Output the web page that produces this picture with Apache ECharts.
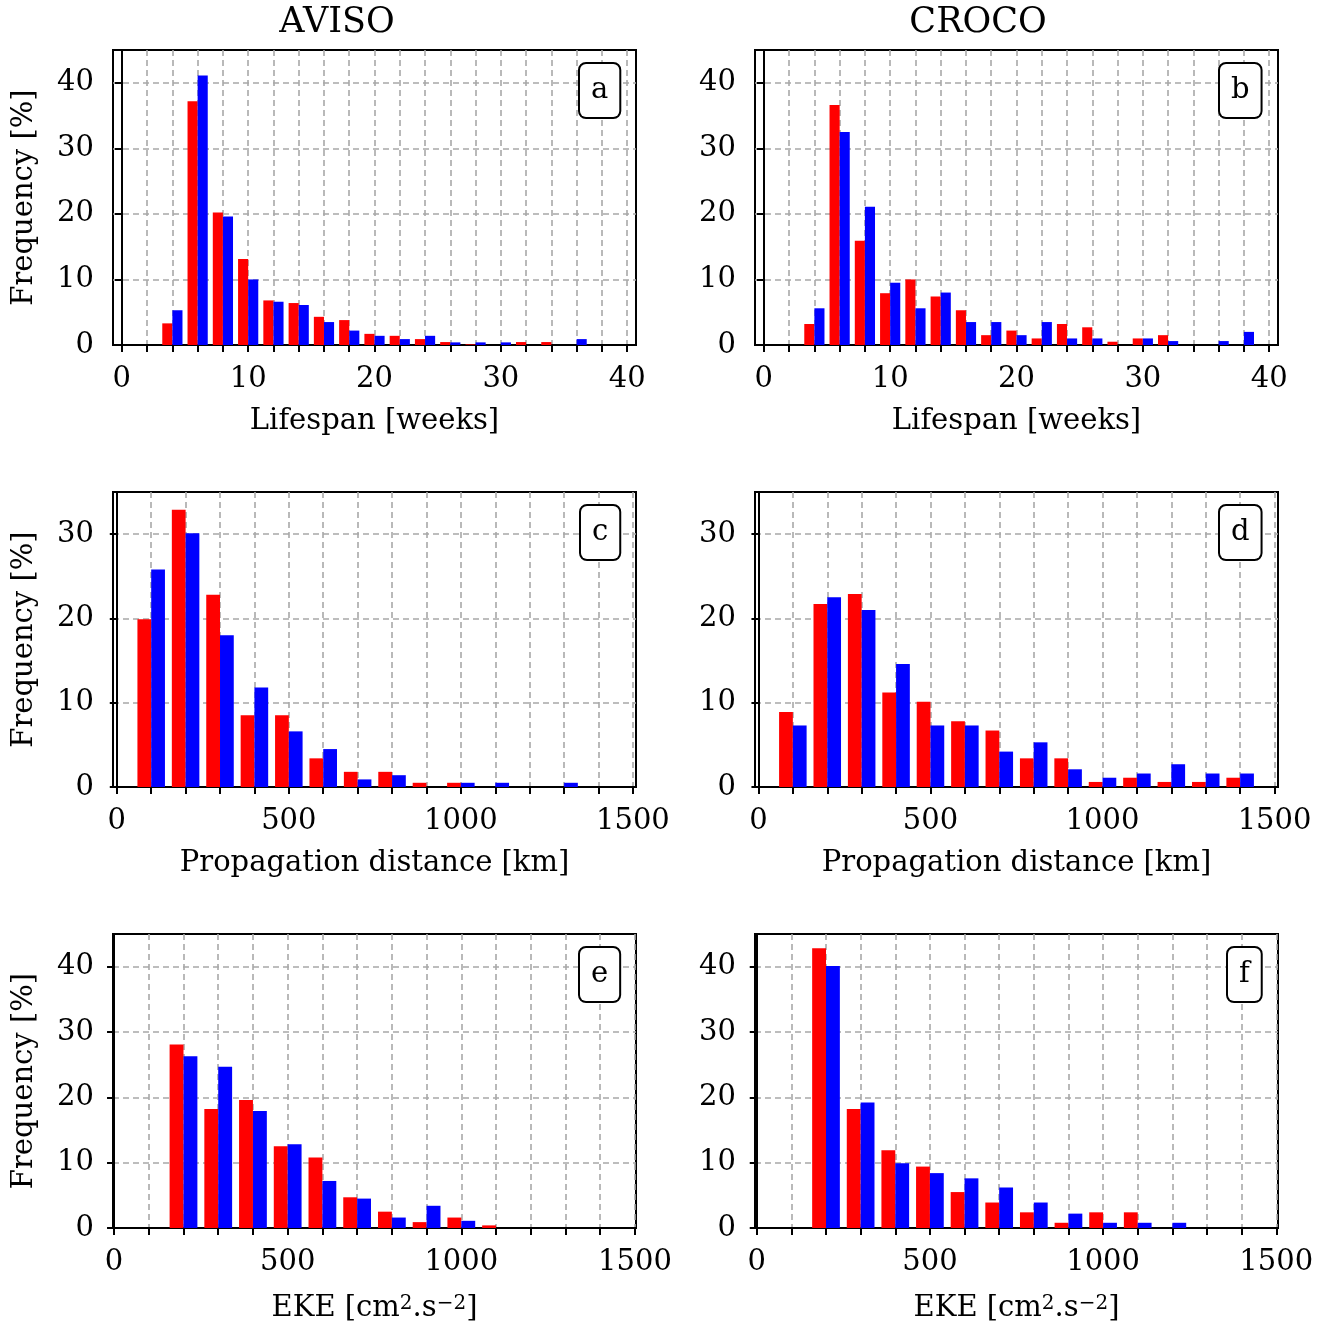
<!DOCTYPE html>
<html>
<head>
<meta charset="utf-8">
<script src="https://cdn.jsdelivr.net/npm/echarts@6/dist/echarts.min.js"></script>
<style>html,body{margin:0;padding:0;background:#fff}#c{width:1327px;height:1324px}</style>
</head>
<body>
<div id="c"></div>
<script>
// ---- data ----
const weekBins = [0,2,4,6,8,10,12,14,16,18,20,22,24,26,28,30,32,34,36,38];
const aRed  = [0,0,3.3,37.2,20.2,13.1,6.8,6.4,4.3,3.8,1.7,1.4,0.9,0.45,0.1,0,0.45,0.45,0,0];
const aBlue = [0,0,5.3,41.1,19.6,10.0,6.6,6.1,3.5,2.2,1.4,0.9,1.4,0.4,0.4,0.4,0,0,0.9,0];
const bRed  = [0,0,3.2,36.6,15.9,7.9,10.0,7.4,5.3,1.5,2.2,1.0,3.2,2.7,0.5,1.0,1.5,0,0,0];
const bBlue = [0,0,5.6,32.5,21.1,9.5,5.6,8.0,3.5,3.5,1.5,3.5,1.0,1.0,0,1.0,0.6,0,0.6,2.0];

const distBins = [100,200,300,400,500,600,700,800,900,1000,1100,1200,1300,1400];
const cRed  = [19.9,32.9,22.8,8.5,8.5,3.4,1.8,1.8,0.5,0.5,0,0,0,0];
const cBlue = [25.8,30.1,18.0,11.8,6.6,4.5,0.9,1.4,0,0.5,0.5,0,0.5,0];
const dRed  = [8.9,21.7,22.9,11.2,10.1,7.8,6.7,3.4,3.4,0.6,1.1,0.6,0.6,1.1];
const dBlue = [7.3,22.5,21.0,14.6,7.3,7.3,4.2,5.3,2.1,1.1,1.6,2.7,1.6,1.6];

const ekeBins = [100,200,300,400,500,600,700,800,900,1000,1100,1200,1300,1400];
const eRed  = [0,28.1,18.2,19.6,12.5,10.8,4.7,2.5,0.9,1.6,0.4,0,0,0];
const eBlue = [0,26.3,24.7,17.9,12.8,7.2,4.5,1.6,3.4,1.1,0,0,0,0];
const fRed  = [0,42.8,18.2,11.9,9.4,5.5,3.9,2.4,0.8,2.4,2.4,0,0,0];
const fBlue = [0,40.1,19.2,9.9,8.4,7.6,6.2,3.9,2.2,0.8,0.8,0.8,0,0];

const weekLabels = [0,10,20,30,40];
const weekTicks = [0,2,4,6,8,10,12,14,16,18,20,22,24,26,28,30,32,34,36,38,40];
const kmLabels = [0,500,1000,1500];
const kmTicks = [0,100,200,300,400,500,600,700,800,900,1000,1100,1200,1300,1400,1500];
const freqTicks45 = [0,10,20,30,40];
const freqTicks35 = [0,10,20,30];

const colTitles = ['AVISO','CROCO'];
const panelLetters = ['a','b','c','d','e','f'];

// ---- chart ----
const FONT = 'DejaVu Serif';
const FS = 29;
const chart = echarts.init(document.getElementById('c'), null, {renderer:'canvas'});

const grids = [
  {left:113, top:50,  width:523, height:295},
  {left:755, top:50,  width:523, height:295},
  {left:113, top:492, width:523, height:295},
  {left:755, top:492, width:523, height:295},
  {left:113, top:934, width:523, height:294},
  {left:755, top:934, width:523, height:294}
];
const xRanges = [[-0.7,40.7],[-0.7,40.7],[-11,1509],[-10,1510],[-3,1503],[-5,1505]];
const xLab = [weekLabels,weekLabels,kmLabels,kmLabels,kmLabels,kmLabels];
const xTk = [weekTicks,weekTicks,kmTicks,kmTicks,kmTicks,kmTicks];
const yMax = [45,45,35,35,45,45];
const yTk = [freqTicks45,freqTicks45,freqTicks35,freqTicks35,freqTicks45,freqTicks45];
const xNames = ['Lifespan [weeks]','Lifespan [weeks]','Propagation distance [km]','Propagation distance [km]',
  '{t|EKE [cm}{s|2}{t|.s}{s|\u22122}{t|]}','{t|EKE [cm}{s|2}{t|.s}{s|\u22122}{t|]}'];

const gridLine = {show:true, lineStyle:{color:'#a8a8a8', width:1.6, type:[6,4]}};
const plain = v => String(v);

const xAxes = grids.map((g,i)=>({
  type:'value', gridIndex:i, min:xRanges[i][0], max:xRanges[i][1],
  name:xNames[i], nameLocation:'middle', nameGap: i>=4 ? 66 : 62,
  nameTextStyle:{fontFamily:FONT, fontSize:FS, color:'#000',
    rich:{t:{fontFamily:FONT, fontSize:FS, color:'#000'}, s:{fontFamily:FONT, fontSize:20, color:'#000', verticalAlign:'top'}}},
  axisLine:{show:true, onZero:false, lineStyle:{color:'#000', width:2}},
  axisTick:{show:true, customValues:xTk[i], length:7, lineStyle:{color:'#000', width:2}},
  axisLabel:{customValues:xLab[i], formatter:plain, fontFamily:FONT, fontSize:FS, color:'#000', margin:20, showMinLabel:true, showMaxLabel:true},
  splitLine:gridLine
}));
const yAxes = grids.map((g,i)=>({
  type:'value', gridIndex:i, min:0, max:yMax[i],
  name: (i%2===0) ? 'Frequency [%]' : '', nameLocation:'middle', nameGap:74,
  nameTextStyle:{fontFamily:FONT, fontSize:FS, color:'#000'},
  axisLine:{show:true, lineStyle:{color:'#000', width:2}},
  axisTick:{show:true, customValues:yTk[i], length:7, lineStyle:{color:'#000', width:2}},
  axisLabel:{customValues:yTk[i], formatter:plain, fontFamily:FONT, fontSize:FS, color:'#000', margin:19},
  splitLine:gridLine
}));

function makeBars(idx, bins, vals, width, side, color){
  return {
    type:'custom', xAxisIndex:idx, yAxisIndex:idx, z:3,
    data: bins.map((b,k)=>[b, vals[k]]),
    renderItem:function(params, api){
      const x = api.value(0), v = api.value(1);
      if (!v) return null;
      const x0 = side<0 ? x-width : x, x1 = side<0 ? x : x+width;
      const p0 = api.coord([x0, v]);
      const p1 = api.coord([x1, 0]);
      return {type:'rect', shape:{x:p0[0], y:p0[1], width:p1[0]-p0[0], height:p1[1]-p0[1]}, style:{fill:color}};
    }
  };
}

const series = [
  makeBars(0, weekBins, aRed, 0.8, -1, '#ff0000'), makeBars(0, weekBins, aBlue, 0.8, 1, '#0000ff'),
  makeBars(1, weekBins, bRed, 0.8, -1, '#ff0000'), makeBars(1, weekBins, bBlue, 0.8, 1, '#0000ff'),
  makeBars(2, distBins, cRed, 40, -1, '#ff0000'), makeBars(2, distBins, cBlue, 40, 1, '#0000ff'),
  makeBars(3, distBins, dRed, 40, -1, '#ff0000'), makeBars(3, distBins, dBlue, 40, 1, '#0000ff'),
  makeBars(4, ekeBins, eRed, 40, -1, '#ff0000'), makeBars(4, ekeBins, eBlue, 40, 1, '#0000ff'),
  makeBars(5, ekeBins, fRed, 40, -1, '#ff0000'), makeBars(5, ekeBins, fBlue, 40, 1, '#0000ff')
];

const letterPos = [[580,64],[1220,64],[581,506],[1220,506],[580,948],[1228,948]];
const graphics = [];
colTitles.forEach((t,i)=>{
  graphics.push({type:'text', x:[337,978][i], y:23, style:{text:t, font:'35px "'+FONT+'"', fill:'#000', align:'center', verticalAlign:'middle'}});
});
panelLetters.forEach((l,i)=>{
  graphics.push({type:'text', x:letterPos[i][0], y:letterPos[i][1], z:10,
    style:{text:l, font:'29px "'+FONT+'"', fill:'#000', align:'left', verticalAlign:'top',
      backgroundColor:'#fff', borderColor:'#000', borderWidth:2, borderRadius:6, padding:[12,11,12,11], lineHeight:29}});
});

chart.setOption({
  animation:false,
  backgroundColor:'#fff',
  grid: grids.map(g=>Object.assign({show:true, borderColor:'#000', borderWidth:2, backgroundColor:'transparent'}, g)),
  xAxis:xAxes, yAxis:yAxes, series:series, graphic:graphics
});
</script>
</body>
</html>
